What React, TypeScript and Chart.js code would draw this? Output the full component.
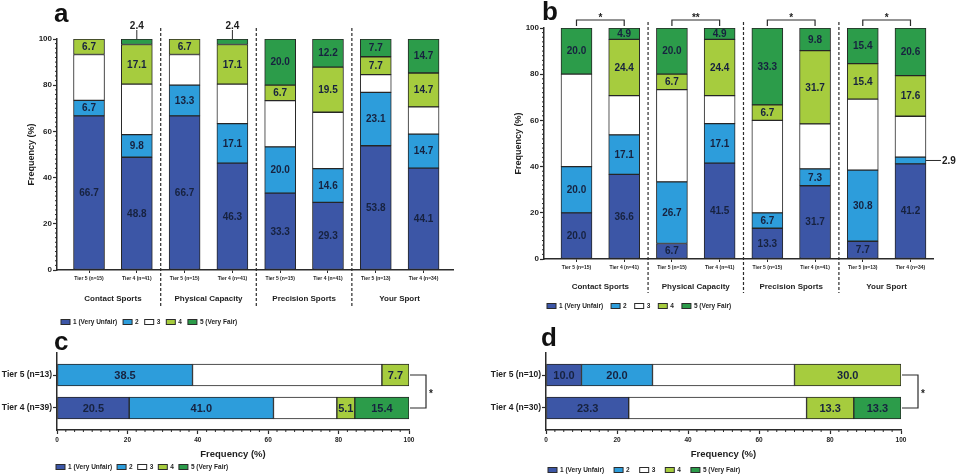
import { useEffect, useRef } from 'react';
import { Chart, registerables } from 'chart.js';

Chart.register(...registerables);

const FONT = "'Liberation Sans', Arial, Helvetica, sans-serif";
const INK = '#2b2b2b';
const TEXT = '#1e1e1e';
const LABEL_INK = '#17223f';
const BAR_EDGE = '#262626';

const ratingNames = ['1 (Very Unfair)', '2', '3', '4', '5 (Very Fair)'];
const ratingColors = ['#3c56a6', '#2d9ddb', '#ffffff', '#a6cc3e', '#2c9c4a'];

const groupNames = ['Contact Sports', 'Physical Capacity', 'Precision Sports', 'Your Sport'];
const tierLabels = [
  'Tier 5 (n=15)', 'Tier 4 (n=41)', 'Tier 5 (n=15)', 'Tier 4 (n=41)',
  'Tier 5 (n=15)', 'Tier 4 (n=41)', 'Tier 5 (n=13)', 'Tier 4 (n=34)',
];

// Panel a
const aRating1 = [66.7, 48.8, 66.7, 46.3, 33.3, 29.3, 53.8, 44.1];
const aRating2 = [6.7, 9.8, 13.3, 17.1, 20.0, 14.6, 23.1, 14.7];
const aRating3 = [19.9, 21.9, 13.3, 17.1, 20.0, 24.4, 7.7, 11.8];
const aRating4 = [6.7, 17.1, 6.7, 17.1, 6.7, 19.5, 7.7, 14.7];
const aRating5 = [0, 2.4, 0, 2.4, 20.0, 12.2, 7.7, 14.7];

// Panel b
const bRating1 = [20.0, 36.6, 6.7, 41.5, 13.3, 31.7, 7.7, 41.2];
const bRating2 = [20.0, 17.1, 26.7, 17.1, 6.7, 7.3, 30.8, 2.9];
const bRating3 = [40.0, 17.0, 39.9, 12.1, 40.0, 19.5, 30.7, 17.7];
const bRating4 = [0, 24.4, 6.7, 24.4, 6.7, 31.7, 15.4, 17.6];
const bRating5 = [20.0, 4.9, 20.0, 4.9, 33.3, 9.8, 15.4, 20.6];
const bMarks = ['*', '**', '*', '*'];

// Panel c
const cLabels = ['Tier 5 (n=13)', 'Tier 4 (n=39)'];
const cRating1 = [0, 20.5];
const cRating2 = [38.5, 41.0];
const cRating3 = [53.8, 18.0];
const cRating4 = [7.7, 5.1];
const cRating5 = [0, 15.4];

// Panel d
const dLabels = ['Tier 5 (n=10)', 'Tier 4 (n=30)'];
const dRating1 = [10.0, 23.3];
const dRating2 = [20.0, 0];
const dRating3 = [40.0, 50.1];
const dRating4 = [30.0, 13.3];
const dRating5 = [0, 13.3];

const bold = (size: number) => ({ family: FONT, size, weight: 'bold' as const });

const segLabels = {
  id: 'segLabels',
  afterDatasetsDraw(chart: any, _args: any, opts: any) {
    const ctx = chart.ctx as CanvasRenderingContext2D;
    const horiz = chart.options.indexAxis === 'y';
    const sets = chart.data.datasets;
    const val = (ds: any, i: number) => (horiz ? ds.data[i].x : ds.data[i].y);
    ctx.save();
    sets.forEach((ds: any, di: number) => {
      if (opts.skip.includes(di)) return;
      chart.getDatasetMeta(di).data.forEach((el: any, i: number) => {
        const v = val(ds, i);
        if (!v) return;
        const { x, y, base, width } = el.getProps(['x', 'y', 'base', 'width'], true);
        const text = v.toFixed(1);
        if (v >= opts.minInside) {
          ctx.font = `bold ${opts.size}px ${FONT}`;
          ctx.fillStyle = LABEL_INK;
          ctx.textAlign = 'center';
          ctx.textBaseline = 'middle';
          if (horiz) ctx.fillText(text, (x + base) / 2, y + 0.5);
          else ctx.fillText(text, x, (y + base) / 2 + 0.5);
          return;
        }
        const onTop = sets.slice(di + 1).every((o: any) => !val(o, i));
        ctx.font = `bold ${opts.outSize}px ${FONT}`;
        ctx.fillStyle = TEXT;
        ctx.strokeStyle = INK;
        ctx.lineWidth = 1;
        ctx.beginPath();
        if (onTop) {
          ctx.moveTo(x, y);
          ctx.lineTo(x, y - 9);
          ctx.stroke();
          ctx.textAlign = 'center';
          ctx.textBaseline = 'alphabetic';
          ctx.fillText(text, x, y - 10);
        } else {
          const cy = (y + base) / 2;
          const x0 = x + width / 2;
          ctx.moveTo(x0, cy);
          ctx.lineTo(x0 + 15, cy);
          ctx.stroke();
          ctx.textAlign = 'left';
          ctx.textBaseline = 'middle';
          ctx.fillText(text, x0 + 16, cy + 0.5);
        }
      });
    });
    ctx.restore();
  },
};

const minorTicks = {
  id: 'minorTicks',
  afterDraw(chart: any, _a: any, opts: any) {
    const { ctx, chartArea } = chart;
    const sc = chart.scales[opts.axis];
    ctx.save();
    ctx.strokeStyle = INK;
    ctx.lineWidth = 1;
    ctx.beginPath();
    for (let k = 0; k * opts.step <= 100 + 1e-9; k++) {
      const v = k * opts.step;
      if (Math.abs(v / opts.major - Math.round(v / opts.major)) < 1e-6) continue;
      const p = sc.getPixelForValue(v);
      if (opts.axis === 'y') {
        ctx.moveTo(chartArea.left - opts.len, p);
        ctx.lineTo(chartArea.left, p);
      } else {
        ctx.moveTo(p, chartArea.bottom);
        ctx.lineTo(p, chartArea.bottom + opts.len);
      }
    }
    ctx.stroke();
    ctx.restore();
  },
};

const groupSeps = {
  id: 'groupSeps',
  afterDraw(chart: any, _a: any, opts: any) {
    if (!opts.groups) return;
    const { ctx, chartArea } = chart;
    const xs = chart.scales.x;
    ctx.save();
    ctx.strokeStyle = INK;
    ctx.lineWidth = 1.2;
    ctx.setLineDash([3, 2]);
    opts.between.forEach((v: number) => {
      const px = xs.getPixelForValue(v);
      ctx.beginPath();
      ctx.moveTo(px, chartArea.top + opts.top);
      ctx.lineTo(px, chartArea.bottom + opts.bottom);
      ctx.stroke();
    });
    ctx.setLineDash([]);
    ctx.fillStyle = TEXT;
    ctx.font = `bold 8px ${FONT}`;
    ctx.textAlign = 'center';
    ctx.textBaseline = 'middle';
    opts.groups.forEach((g: string, k: number) => {
      ctx.fillText(g, xs.getPixelForValue(2 * k + 0.5), chartArea.bottom + opts.labelOffset);
    });
    ctx.restore();
  },
};

const brackets = {
  id: 'brackets',
  afterDraw(chart: any, _a: any, opts: any) {
    if (!opts.pairs || !opts.pairs.length) return;
    const ctx = chart.ctx as CanvasRenderingContext2D;
    const xs = chart.scales.x;
    const ys = chart.scales.y;
    const horiz = chart.options.indexAxis === 'y';
    ctx.save();
    ctx.strokeStyle = INK;
    ctx.lineWidth = 1.2;
    ctx.fillStyle = TEXT;
    ctx.font = `bold 10px ${FONT}`;
    opts.pairs.forEach(([a, b, mark]: [number, number, string]) => {
      ctx.beginPath();
      if (!horiz) {
        const top = ys.getPixelForValue(100);
        const yb = top - opts.rise;
        const xa = xs.getPixelForValue(a);
        const xb = xs.getPixelForValue(b);
        ctx.moveTo(xa, top - 2);
        ctx.lineTo(xa, yb);
        ctx.lineTo(xb, yb);
        ctx.lineTo(xb, top - 2);
        ctx.stroke();
        ctx.textAlign = 'center';
        ctx.textBaseline = 'alphabetic';
        ctx.fillText(mark, (xa + xb) / 2, yb + 1);
      } else {
        const end = xs.getPixelForValue(100);
        const xr = end + opts.rise;
        const ya = ys.getPixelForValue(a);
        const yb = ys.getPixelForValue(b);
        ctx.moveTo(end + 1, ya);
        ctx.lineTo(xr, ya);
        ctx.lineTo(xr, yb);
        ctx.lineTo(end + 1, yb);
        ctx.stroke();
        ctx.textAlign = 'left';
        ctx.textBaseline = 'alphabetic';
        ctx.fillText(mark, xr + 3, (ya + yb) / 2 + 5);
      }
    });
    ctx.restore();
  },
};

const boxLegend = {
  id: 'boxLegend',
  afterDraw(chart: any, _a: any, opts: any) {
    const ctx = chart.ctx as CanvasRenderingContext2D;
    ctx.save();
    ctx.font = `bold ${opts.size}px ${FONT}`;
    ctx.textBaseline = 'middle';
    ctx.textAlign = 'left';
    let x = opts.x;
    chart.data.datasets.forEach((ds: any) => {
      ctx.fillStyle = ds.backgroundColor;
      ctx.fillRect(x, opts.y - 2.5, 9, 5);
      ctx.strokeStyle = INK;
      ctx.lineWidth = 1;
      ctx.strokeRect(x, opts.y - 2.5, 9, 5);
      ctx.fillStyle = TEXT;
      ctx.fillText(ds.label, x + 12, opts.y + 0.5);
      x += 12 + ctx.measureText(ds.label).width + opts.gap;
    });
    ctx.restore();
  },
};

type VPanel = {
  series: number[][];
  xMin: number;
  xMax: number;
  padTop: number;
  padRight: number;
  xAxisHeight: number;
  sepTop: number;
  sepBottom: number;
  groupOffset: number;
  legendX: number;
  legendY: number;
  legendGap: number;
  pairs: [number, number, string][];
};

function verticalConfig(p: VPanel): any {
  return {
    type: 'bar',
    data: {
      datasets: ratingNames.map((name, r) => ({
        label: name,
        data: p.series[r].map((v, i) => ({ x: i, y: v })),
        backgroundColor: ratingColors[r],
        borderColor: BAR_EDGE,
        borderWidth: 1,
        borderSkipped: false,
        barThickness: 31,
      })),
    },
    options: {
      animation: false,
      responsive: false,
      events: [],
      layout: { padding: { left: 0, top: p.padTop, right: p.padRight, bottom: 0 } },
      scales: {
        x: {
          type: 'linear',
          stacked: true,
          offset: false,
          min: p.xMin,
          max: p.xMax,
          afterBuildTicks: (s: any) => {
            s.ticks = tierLabels.map((_, i) => ({ value: i }));
          },
          afterFit: (s: any) => {
            s.height = p.xAxisHeight;
          },
          grid: { offset: false, drawOnChartArea: false, tickLength: 3, tickColor: INK, tickWidth: 1 },
          border: { color: INK, width: 1.5 },
          ticks: {
            autoSkip: false,
            maxRotation: 0,
            padding: 2.5,
            font: bold(5),
            color: TEXT,
            callback: (v: number) => tierLabels[v] ?? '',
          },
        },
        y: {
          stacked: true,
          min: 0,
          max: 100,
          afterFit: (s: any) => {
            s.width = 57;
          },
          ticks: { stepSize: 20, padding: 1, font: bold(8), color: TEXT },
          grid: { drawOnChartArea: false, tickLength: 4, tickColor: INK, tickWidth: 1.2 },
          border: { color: INK, width: 1.5 },
          title: {
            display: true,
            text: 'Frequency (%)',
            font: bold(9),
            color: TEXT,
            padding: { top: 26, bottom: 0 },
          },
        },
      },
      plugins: {
        legend: { display: false },
        tooltip: { enabled: false },
        segLabels: { size: 10, outSize: 10, minInside: 4.5, skip: [2] },
        minorTicks: { axis: 'y', step: 2, major: 20, len: 2 },
        groupSeps: {
          between: [1.5, 3.5, 5.5],
          top: p.sepTop,
          bottom: p.sepBottom,
          groups: groupNames,
          labelOffset: p.groupOffset,
        },
        brackets: { pairs: p.pairs, rise: 8 },
        boxLegend: { x: p.legendX, y: p.legendY, gap: p.legendGap, size: 6.5 },
      },
    },
    plugins: [segLabels, minorTicks, groupSeps, brackets, boxLegend],
  };
}

type HPanel = {
  labels: string[];
  series: number[][];
  padRight: number;
  legendX: number;
  legendY: number;
  legendGap: number;
};

function horizontalConfig(p: HPanel): any {
  return {
    type: 'bar',
    data: {
      datasets: ratingNames.map((name, r) => ({
        label: name,
        data: p.series[r].map((v, i) => ({ x: v, y: i })),
        backgroundColor: ratingColors[r],
        borderColor: BAR_EDGE,
        borderWidth: 1,
        borderSkipped: false,
        barThickness: 22,
      })),
    },
    options: {
      indexAxis: 'y',
      animation: false,
      responsive: false,
      events: [],
      layout: { padding: { left: 0, top: 28, right: p.padRight, bottom: 0 } },
      scales: {
        x: {
          type: 'linear',
          stacked: true,
          offset: false,
          min: 0,
          max: 100,
          afterFit: (s: any) => {
            s.height = 46;
          },
          ticks: { stepSize: 20, padding: 2, font: bold(6.5), color: TEXT, maxRotation: 0 },
          grid: { drawOnChartArea: false, tickLength: 4, tickColor: INK, tickWidth: 1.2 },
          border: { color: INK, width: 1.5 },
          title: {
            display: true,
            text: 'Frequency (%)',
            font: bold(9.5),
            color: TEXT,
            padding: { top: 0, bottom: 16 },
          },
        },
        y: {
          type: 'linear',
          stacked: true,
          reverse: true,
          offset: false,
          min: -0.667,
          max: 1.667,
          afterBuildTicks: (s: any) => {
            s.ticks = p.labels.map((_, i) => ({ value: i }));
          },
          afterFit: (s: any) => {
            s.width = 57;
          },
          ticks: {
            autoSkip: false,
            padding: 1,
            font: bold(8.5),
            color: TEXT,
            callback: (v: number) => p.labels[v] ?? '',
          },
          grid: { offset: false, drawOnChartArea: false, tickLength: 4, tickColor: INK, tickWidth: 1.2 },
          border: { color: INK, width: 1.5 },
        },
      },
      plugins: {
        legend: { display: false },
        tooltip: { enabled: false },
        segLabels: { size: 11, outSize: 10, minInside: 4.5, skip: [2] },
        minorTicks: { axis: 'x', step: 2.5, major: 20, len: 2 },
        groupSeps: {},
        brackets: { pairs: [[0, 1, '*']], rise: 17 },
        boxLegend: { x: p.legendX, y: p.legendY, gap: p.legendGap, size: 6.5 },
      },
    },
    plugins: [segLabels, minorTicks, brackets, boxLegend],
  };
}

function ChartCanvas(props: { left: number; top: number; width: number; height: number; build: () => any }) {
  const ref = useRef<HTMLCanvasElement>(null);
  useEffect(() => {
    const chart = new Chart(ref.current as HTMLCanvasElement, props.build());
    return () => chart.destroy();
  }, []);
  return (
    <canvas
      ref={ref}
      width={props.width}
      height={props.height}
      style={{ position: 'absolute', left: props.left, top: props.top, width: props.width, height: props.height }}
    />
  );
}

const letterStyle = (left: number, top: number): any => ({
  position: 'absolute',
  left,
  top,
  fontFamily: FONT,
  fontWeight: 'bold',
  fontSize: 26,
  lineHeight: '26px',
  color: '#111',
});

export default function App() {
  return (
    <div
      style={{
        position: 'absolute',
        left: 0,
        top: 0,
        width: 959,
        height: 476,
        background: '#fff',
        overflow: 'hidden',
      }}
    >
      <ChartCanvas
        left={0}
        top={0}
        width={470}
        height={330}
        build={() =>
          verticalConfig({
            series: [aRating1, aRating2, aRating3, aRating4, aRating5],
            xMin: -0.67,
            xMax: 7.616,
            padTop: 39,
            padRight: 17,
            xAxisHeight: 60,
            sepTop: -11,
            sepBottom: 38,
            groupOffset: 29,
            legendX: 61,
            legendY: 322,
            legendGap: 6,
            pairs: [],
          })
        }
      />
      <ChartCanvas
        left={487}
        top={0}
        width={472}
        height={315}
        build={() =>
          verticalConfig({
            series: [bRating1, bRating2, bRating3, bRating4, bRating5],
            xMin: -0.681,
            xMax: 7.472,
            padTop: 28,
            padRight: 26,
            xAxisHeight: 56,
            sepTop: -6,
            sepBottom: 34,
            groupOffset: 28,
            legendX: 60,
            legendY: 306,
            legendGap: 8,
            pairs: bMarks.map((m, k) => [2 * k, 2 * k + 1, m] as [number, number, string]),
          })
        }
      />
      <ChartCanvas
        left={0}
        top={325}
        width={470}
        height={151}
        build={() =>
          horizontalConfig({
            labels: cLabels,
            series: [cRating1, cRating2, cRating3, cRating4, cRating5],
            padRight: 61,
            legendX: 56,
            legendY: 142,
            legendGap: 5,
          })
        }
      />
      <ChartCanvas
        left={489}
        top={325}
        width={470}
        height={151}
        build={() =>
          horizontalConfig({
            labels: dLabels,
            series: [dRating1, dRating2, dRating3, dRating4, dRating5],
            padRight: 58,
            legendX: 59,
            legendY: 145,
            legendGap: 10,
          })
        }
      />
      <div style={letterStyle(54, 0)}>a</div>
      <div style={letterStyle(542, -2)}>b</div>
      <div style={letterStyle(54, 328)}>c</div>
      <div style={letterStyle(541, 324)}>d</div>
    </div>
  );
}
